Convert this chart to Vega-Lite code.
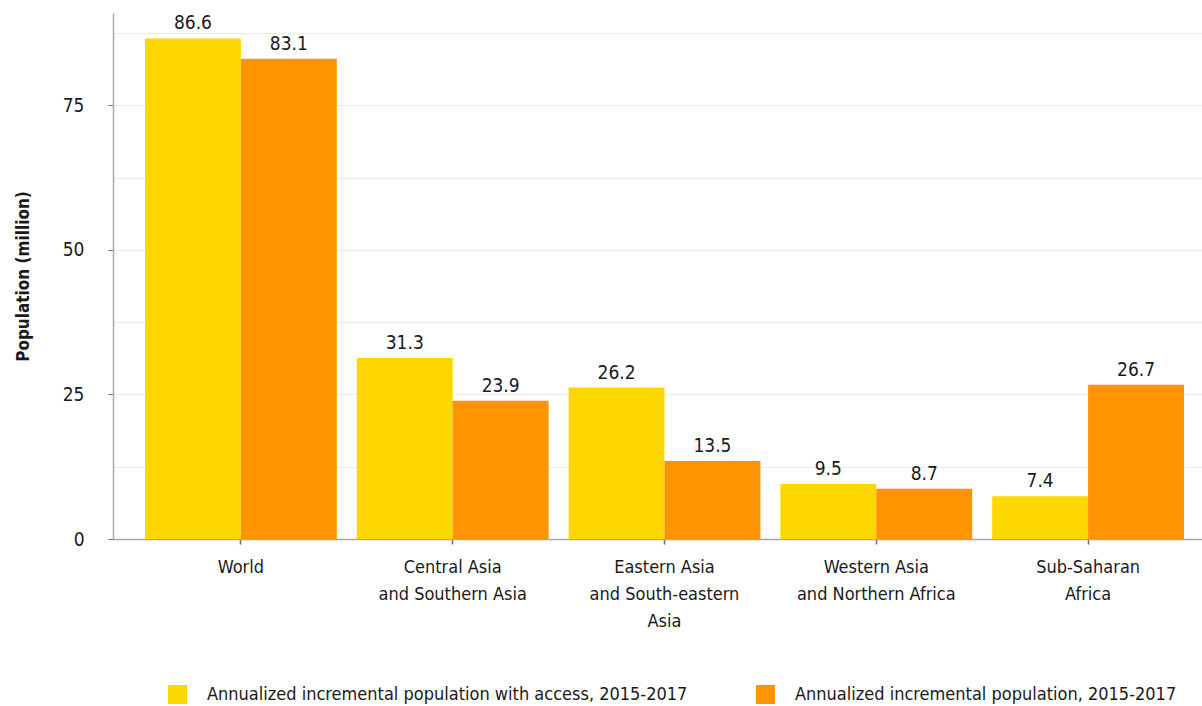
{
  "$schema": "https://vega.github.io/schema/vega-lite/v6.json",
  "autosize": {"type": "none"},
  "padding": {"left": 113, "top": 13, "right": 0, "bottom": 167},
  "width": 1089,
  "height": 526,
  "background": "white",
  "config": {
    "font": "Liberation Sans Narrow, DejaVu Sans Condensed, Roboto",
    "view": {"stroke": null},
    "axis": {
      "labelFont": "Liberation Sans Narrow, DejaVu Sans Condensed, Roboto",
      "titleFont": "Liberation Sans Narrow, DejaVu Sans Condensed, Roboto",
      "labelColor": "#1a1a1a",
      "titleColor": "#1a1a1a",
      "domainColor": "#a8a8a8",
      "domainWidth": 1.5,
      "tickColor": "#6f6f6f",
      "gridColor": "#ebebeb",
      "gridWidth": 1.2
    },
    "legend": {
      "labelFont": "Liberation Sans Narrow, DejaVu Sans Condensed, Roboto"
    }
  },
  "data": {
    "values": [
      {"region": "World", "series": "Annualized incremental population with access, 2015-2017", "value": 86.6},
      {"region": "World", "series": "Annualized incremental population, 2015-2017", "value": 83.1},
      {"region": "Central Asia\nand Southern Asia", "series": "Annualized incremental population with access, 2015-2017", "value": 31.3},
      {"region": "Central Asia\nand Southern Asia", "series": "Annualized incremental population, 2015-2017", "value": 23.9},
      {"region": "Eastern Asia\nand South-eastern\nAsia", "series": "Annualized incremental population with access, 2015-2017", "value": 26.2},
      {"region": "Eastern Asia\nand South-eastern\nAsia", "series": "Annualized incremental population, 2015-2017", "value": 13.5},
      {"region": "Western Asia\nand Northern Africa", "series": "Annualized incremental population with access, 2015-2017", "value": 9.5},
      {"region": "Western Asia\nand Northern Africa", "series": "Annualized incremental population, 2015-2017", "value": 8.7},
      {"region": "Sub-Saharan\nAfrica", "series": "Annualized incremental population with access, 2015-2017", "value": 7.4},
      {"region": "Sub-Saharan\nAfrica", "series": "Annualized incremental population, 2015-2017", "value": 26.7}
    ]
  },
  "encoding": {
    "x": {
      "field": "region",
      "type": "nominal",
      "sort": null,
      "scale": {"paddingInner": 0.0943, "paddingOuter": 0.1179, "align": 0.64},
      "axis": {
        "title": null,
        "labelAngle": 0,
        "labelExpr": "split(datum.label, '\\n')",
        "labelFontSize": 18,
        "labelLineHeight": 27,
        "labelPadding": 14,
        "tickSize": 5,
        "tickWidth": 1.5,
        "labelBaseline": "top"
      }
    },
    "xOffset": {
      "field": "series",
      "type": "nominal",
      "sort": ["Annualized incremental population with access, 2015-2017", "Annualized incremental population, 2015-2017"],
      "scale": {"paddingInner": 0, "paddingOuter": 0}
    },
    "y": {
      "field": "value",
      "type": "quantitative",
      "scale": {"domain": [0, 91], "nice": false},
      "axis": {
        "title": "Population (million)",
        "titleFontSize": 17,
        "titleFontWeight": "bold",
        "titlePadding": 30,
        "values": [0, 12.5, 25, 37.5, 50, 62.5, 75, 87.5],
        "labelExpr": "datum.value % 25 === 0 ? datum.label : ''",
        "labelFontSize": 19,
        "labelPadding": 24,
        "tickSize": 5,
        "tickOpacity": {"condition": {"test": "datum.value % 25 !== 0", "value": 0}, "value": 1}
      }
    }
  },
  "layer": [
    {
      "mark": {"type": "bar"},
      "encoding": {
        "color": {
          "field": "series",
          "type": "nominal",
          "scale": {
            "domain": ["Annualized incremental population with access, 2015-2017", "Annualized incremental population, 2015-2017"],
            "range": ["#FFD700", "#FF9300"]
          },
          "legend": {
            "title": null,
            "orient": "none",
            "legendX": 55,
            "legendY": 672,
            "direction": "horizontal",
            "columns": 2,
            "columnPadding": 68,
            "symbolType": "square",
            "symbolSize": 361,
            "symbolStrokeWidth": 0,
            "symbolOpacity": 1,
            "labelFontSize": 18,
            "labelColor": "#1a1a1a",
            "labelOffset": 20,
            "labelLimit": 800
          }
        }
      }
    },
    {
      "mark": {"type": "text", "baseline": "bottom", "dy": -5, "fontSize": 19, "color": "#1a1a1a"},
      "encoding": {
        "text": {"field": "value", "type": "quantitative", "format": ".1f"}
      }
    }
  ]
}
